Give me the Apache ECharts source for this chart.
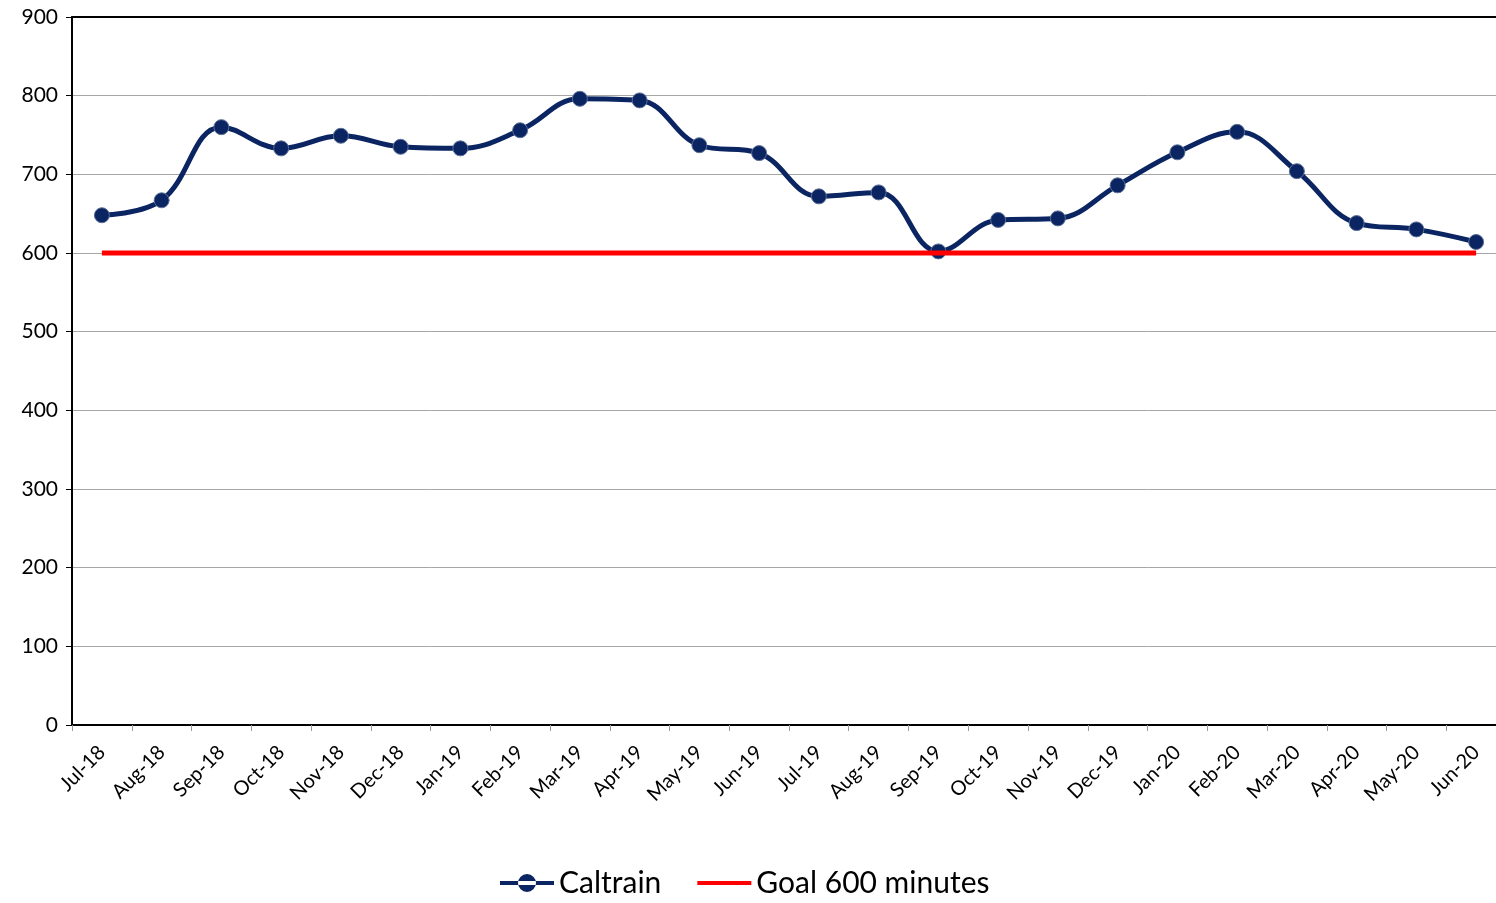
<!DOCTYPE html>
<html>
<head>
<meta charset="utf-8">
<script src="https://cdn.jsdelivr.net/npm/echarts@6/dist/echarts.min.js"></script>
<style>
  html, body { margin: 0; padding: 0; background: #fff; overflow: hidden; }
  #main { width: 1560px; height: 903px; }
</style>
</head>
<body>
<div id="main"></div>
<script>
// months on the x axis
const months = ['Jul-18','Aug-18','Sep-18','Oct-18','Nov-18','Dec-18','Jan-19','Feb-19','Mar-19','Apr-19','May-19','Jun-19',
  'Jul-19','Aug-19','Sep-19','Oct-19','Nov-19','Dec-19','Jan-20','Feb-20','Mar-20','Apr-20','May-20','Jun-20'];
// Caltrain minutes
const caltrain = [648, 667, 760, 733, 749, 735, 733, 756, 796, 794, 737, 727,
  672, 677, 602, 642, 644, 686, 728, 754, 704, 638, 630, 614];
// goal line
const goal = months.map(() => 600);
const yTicks = [0, 100, 200, 300, 400, 500, 600, 700, 800, 900];

const navy = '#0b2462';
const fontFam = 'Lato, "Open Sans", sans-serif';

let myChart = echarts.init(document.getElementById('main'));
let option = {
  animation: false,
  grid: {
    left: 72,
    top: 17,
    width: 1434,
    height: 708
  },
  legend: {
    bottom: 0,
    left: 495,
    itemWidth: 54,
    itemHeight: 18,
    itemGap: 36,
    textStyle: { fontSize: 30, color: '#000', fontFamily: fontFam },
    data: [
      { name: 'Caltrain', icon: 'path://M0,7 L54,7 L54,11 L0,11 Z M18,9 A9,9 0 1,0 36,9 A9,9 0 1,0 18,9 Z',
        itemStyle: { color: navy, borderWidth: 0 } },
      { name: 'Goal 600 minutes', icon: 'path://M0,7 L54,7 L54,11 L0,11 Z',
        itemStyle: { color: '#ff0000', borderWidth: 0 } }
    ]
  },
  xAxis: [
    {
      type: 'category',
      data: months,
      boundaryGap: true,
      axisLine: { lineStyle: { color: '#000', width: 2 } },
      axisTick: { show: true, length: 6, lineStyle: { color: '#999' } },
      axisLabel: {
        rotate: 45,
        fontSize: 20,
        color: '#000',
        fontFamily: fontFam,
        margin: 24
      },
      splitLine: { show: false }
    },
    {
      // top border of the plot
      type: 'category',
      position: 'top',
      data: months,
      axisLine: { lineStyle: { color: '#000', width: 2 } },
      axisTick: { show: false },
      axisLabel: { show: false }
    }
  ],
  yAxis: {
    type: 'value',
    min: yTicks[0],
    max: yTicks[yTicks.length - 1],
    interval: 100,
    axisLine: { show: true, lineStyle: { color: '#000', width: 2 } },
    axisTick: { show: true, length: 6, lineStyle: { color: '#000' } },
    axisLabel: { fontSize: 21, color: '#000', fontFamily: fontFam, margin: 14 },
    splitLine: { show: true, lineStyle: { color: '#a6a6a6', width: 1 } }
  },
  series: [
    {
      name: 'Caltrain',
      type: 'line',
      data: caltrain,
      smooth: 0.4,
      symbol: 'circle',
      symbolSize: 15,
      z: 2,
      lineStyle: { color: navy, width: 5 },
      itemStyle: { color: navy, borderColor: '#5b6f97', borderWidth: 1 }
    },
    {
      name: 'Goal 600 minutes',
      type: 'line',
      data: goal,
      symbol: 'none',
      z: 3,
      lineStyle: { color: '#ff0000', width: 5 },
      itemStyle: { color: '#ff0000' }
    }
  ]
};
myChart.setOption(option);
</script>
</body>
</html>
